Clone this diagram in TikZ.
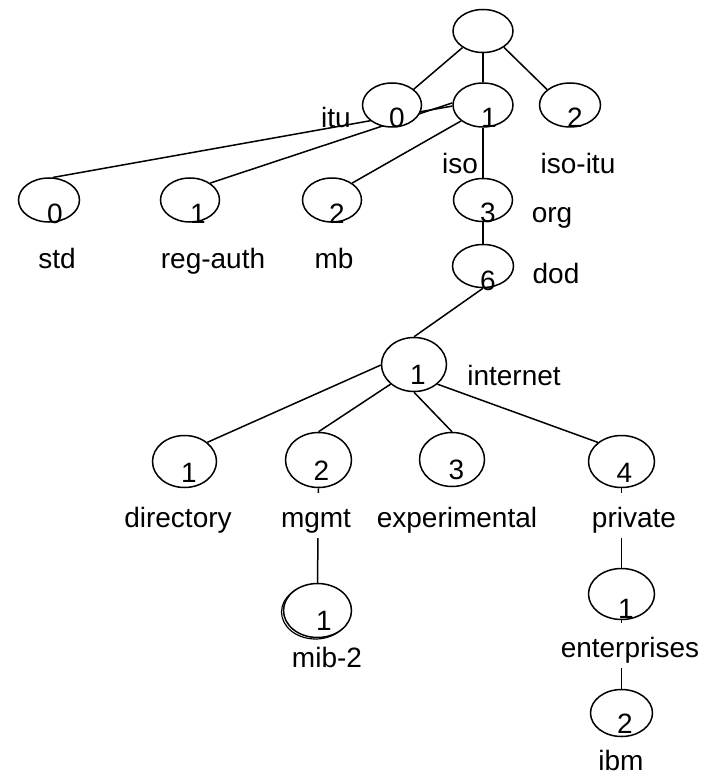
\documentclass[tikz,border=0pt]{standalone}
\usepackage{fontspec}
\setmainfont{Liberation Sans}
\usetikzlibrary{shapes.geometric}
\pgfdeclarelayer{bg}
\pgfsetlayers{bg,main}
\begin{document}
\begin{tikzpicture}[x=1pt,y=-1pt,
  oval/.style={ellipse,draw,fill=white,line width=1.5pt,inner sep=0pt},
  num/.style={anchor=base,inner sep=0pt,font=\fontsize{28}{34}\selectfont},
  lbl/.style={anchor=base,inner sep=0pt,font=\fontsize{28}{34}\selectfont},
  cover/.style={fill=white,text height=34pt,text depth=11pt},
  link/.style={line width=1.5pt}]
\useasboundingbox (0,0) rectangle (706,778);
% ellipses
\node[oval,minimum width=60pt,minimum height=43pt] (root) at (483,31) {};
\node[oval,minimum width=59pt,minimum height=44pt] (itu) at (392,105) {};
\node[oval,minimum width=60pt,minimum height=44pt] (iso) at (483,105) {};
\node[oval,minimum width=61pt,minimum height=44pt] (isoitu) at (570,105) {};
\node[oval,minimum width=61pt,minimum height=44pt] (std) at (49,200) {};
\node[oval,minimum width=59pt,minimum height=44pt] (regauth) at (190,200) {};
\node[oval,minimum width=59pt,minimum height=44pt] (mb) at (332,200) {};
\node[oval,minimum width=59pt,minimum height=43pt] (org) at (483,200) {};
\node[oval,minimum width=61pt,minimum height=43pt] (dod) at (483,266) {};
\node[oval,minimum width=65pt,minimum height=54pt] (internet) at (414,364.5) {};
\node[oval,minimum width=64pt,minimum height=52pt] (directory) at (184.5,461.5) {};
\node[oval,minimum width=66pt,minimum height=55pt] (mgmt) at (318.5,460) {};
\node[oval,minimum width=65pt,minimum height=54pt] (experimental) at (452,459.5) {};
\node[oval,minimum width=66pt,minimum height=52pt] (private) at (621.5,461.5) {};
\node[oval,minimum width=68pt,minimum height=54pt] (mib2) at (317.5,610.5) {};
\node[oval,minimum width=66pt,minimum height=51pt] (enterprises) at (621.5,594) {};
\node[oval,minimum width=62pt,minimum height=47pt] (ibm) at (621.5,713) {};
% connectors
\begin{pgfonlayer}{bg}
\draw[link] (root.219) -- (itu.36);
\draw[link] (root.south) -- (iso.north);
\draw[link] (root.322) -- (isoitu.146);
\draw[link] (std.80) -- (iso.182);
\draw[link] (regauth.40) -- (iso.176);
\draw[link] (mb.40) -- (iso.216);
\draw[link] (iso.south) -- (org.north);
\draw[link] (org.south) -- (dod.north);
\draw[link] (dod.south) -- (internet.north);
\draw[link] (internet.181) -- (directory.40);
\draw[link] (internet.220) -- (mgmt.north);
\draw[link] (internet.south) -- (experimental.north);
\draw[link] (internet.320) -- (private.141);
\draw[link] (mgmt.south) -- (mib2.north);
\draw[link] (private.south) -- (enterprises.north);
\draw[link] (enterprises.south) -- (ibm.north);
\draw[line width=1.2pt] (315.5,612) ellipse [x radius=34pt, y radius=27pt];
\end{pgfonlayer}
% digits
\node[num] (d-itu) at (397,128) {0};
\node[num] (d-iso) at (489,128) {1};
\node[num] (d-isoitu) at (575,128) {2};
\node[num] (d-std) at (55,223) {0};
\node[num] (d-regauth) at (198,223) {1};
\node[num] (d-mb) at (337,223) {2};
\node[num] (d-org) at (488,222) {3};
\node[num] (d-dod) at (488,290) {6};
\node[num] (d-internet) at (418,384) {1};
\node[num] (d-directory) at (189,482) {1};
\node[num] (d-mgmt) at (321.5,480) {2};
\node[num] (d-experimental) at (456.5,479) {3};
\node[num] (d-private) at (624.5,482) {4};
\node[num] (d-mib2) at (324,630) {1};
\node[num] (d-enterprises) at (626,618) {1};
\node[num] (d-ibm) at (625,733) {2};
% labels
\node[lbl] (l-itu) at (336,128) {itu};
\node[lbl] (l-iso) at (460,173) {iso};
\node[lbl] (l-isoitu) at (578,174) {iso-itu};
\node[lbl] (l-std) at (57,268) {std};
\node[lbl] (l-regauth) at (213,268) {reg-auth};
\node[lbl] (l-mb) at (334,268) {mb};
\node[lbl] (l-org) at (552,222) {org};
\node[lbl] (l-dod) at (556,283) {dod};
\node[lbl] (l-internet) at (514,385) {internet};
\node[lbl] (l-directory) at (178,527) {directory};
\node[lbl,cover] (l-mgmt) at (316,527) {mgmt};
\node[lbl] (l-experimental) at (457,527) {experimental};
\node[lbl,cover] (l-private) at (634,527) {private};
\node[lbl,cover] (l-enterprises) at (630,657) {enterprises};
\node[lbl] (l-mib2) at (327,667) {mib-2};
\node[lbl] (l-ibm) at (621,770) {ibm};
\end{tikzpicture}
\end{document}
